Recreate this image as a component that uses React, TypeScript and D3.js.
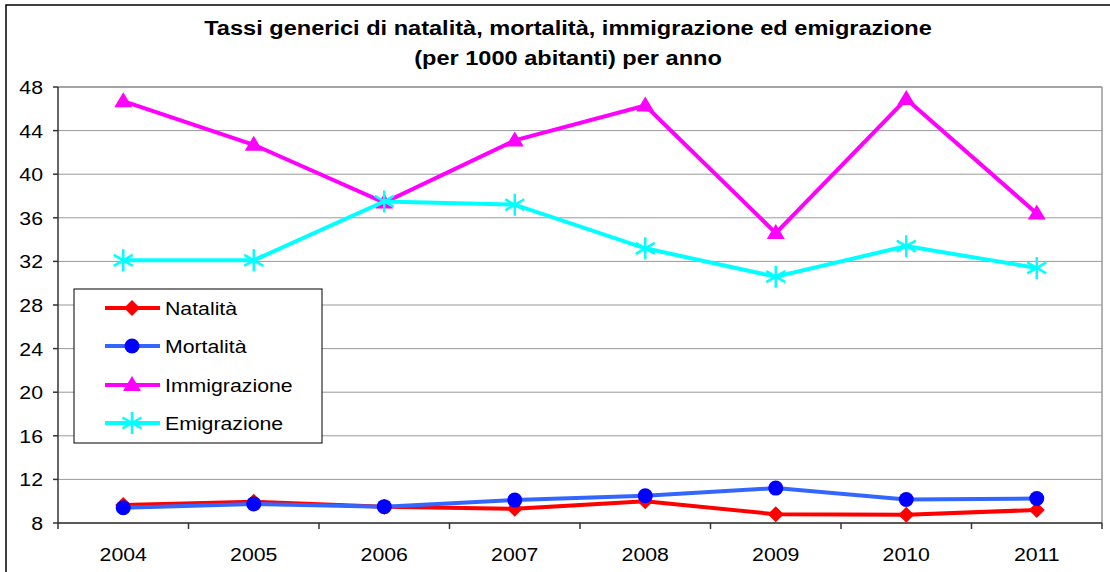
import React from "react";
import * as d3 from "d3";

const years = ["2004", "2005", "2006", "2007", "2008", "2009", "2010", "2011"];
const natalita = [9.65, 9.95, 9.5, 9.3, 10.0, 8.8, 8.75, 9.2];
const mortalita = [9.4, 9.75, 9.5, 10.1, 10.5, 11.2, 10.15, 10.25];
const immigrazione = [46.7, 42.7, 37.4, 43.1, 46.3, 34.6, 46.9, 36.4];
const emigrazione = [32.1, 32.1, 37.5, 37.2, 33.2, 30.6, 33.4, 31.4];
const yTicks = [8, 12, 16, 20, 24, 28, 32, 36, 40, 44, 48];
const titleLines = [
  "Tassi generici di natalità, mortalità, immigrazione ed emigrazione",
  "(per 1000 abitanti) per anno",
];

type Series = { name: string; values: number[]; line: string; marker: string; shape: string };
const series: Series[] = [
  { name: "Natalità", values: natalita, line: "#ff0000", marker: "#ff0000", shape: "diamond" },
  { name: "Mortalità", values: mortalita, line: "#3366ff", marker: "#0000ff", shape: "circle" },
  { name: "Immigrazione", values: immigrazione, line: "#ff00ff", marker: "#ff00ff", shape: "triangle" },
  { name: "Emigrazione", values: emigrazione, line: "#00ffff", marker: "#00ffff", shape: "star" },
];

const W = 1110;
const H = 572;
const left = 58;
const right = 1102;
const top = 87;
const bottom = 523;
const SX = 1.15;

function Marker({ shape, x, y, color }: { shape: string; x: number; y: number; color: string }) {
  if (shape === "diamond") {
    const s = 8;
    return <path d={`M${x},${y - s}L${x + s},${y}L${x},${y + s}L${x - s},${y}Z`} fill={color} />;
  }
  if (shape === "circle") return <circle cx={x} cy={y} r={7.5} fill={color} />;
  if (shape === "triangle") {
    return <path d={`M${x},${y - 9}L${x + 9},${y + 6}L${x - 9},${y + 6}Z`} fill={color} />;
  }
  const r = 11;
  const lines = [0, 60, 120].map((a) => {
    const rad = (a * Math.PI) / 180;
    return `M${x - r * Math.sin(rad)},${y - r * Math.cos(rad)}L${x + r * Math.sin(rad)},${y + r * Math.cos(rad)}`;
  });
  return <path d={lines.join("")} stroke={color} strokeWidth={2.5} fill="none" />;
}

function Txt({ x, y, anchor, size, weight, children }: any) {
  return (
    <text
      transform={`translate(${x},${y}) scale(${SX},1)`}
      textAnchor={anchor}
      fontSize={size}
      fontWeight={weight}
      fontFamily="'Liberation Sans', Arial, sans-serif"
      fill="#000"
    >
      {children}
    </text>
  );
}

export default function App() {
  const x = d3.scaleBand<string>().domain(years).range([left, right]);
  const y = d3.scaleLinear().domain([8, 48]).range([bottom, top]);
  const cx = (d: string) => (x(d) as number) + x.bandwidth() / 2;
  const line = d3
    .line<number>()
    .x((_, i) => cx(years[i]))
    .y((v) => y(v));
  const boundaries = years.map((d) => x(d) as number).concat([right]);

  const legendX = 74;
  const legendY = 289;
  const legendRows = [308, 346, 385, 423];

  return (
    <svg
      width={W}
      height={H}
      style={{ position: "absolute", left: 0, top: 0, background: "#fff" }}
    >
      <rect x={0} y={0} width={W} height={H} fill="#fff" />
      <rect x={6} y={5} width={W + 20} height={H + 20} fill="none" stroke="#000" strokeWidth={1.5} />
      {titleLines.map((t, i) => (
        <Txt key={i} x={568} y={35 + i * 30} anchor="middle" size={20.5} weight="bold">
          {t}
        </Txt>
      ))}
      {yTicks.map((t) => (
        <line key={t} x1={left} x2={right} y1={y(t)} y2={y(t)} stroke="#999" strokeWidth={1} />
      ))}
      <line x1={right} x2={right} y1={top} y2={bottom} stroke="#999" strokeWidth={1.5} />
      <line x1={left} x2={right} y1={top} y2={top} stroke="#999" strokeWidth={1.5} />
      <line x1={left} x2={left} y1={top} y2={bottom} stroke="#333" strokeWidth={1.5} />
      <line x1={left} x2={right} y1={bottom} y2={bottom} stroke="#333" strokeWidth={1.5} />
      {yTicks.map((t) => (
        <g key={"yt" + t}>
          <line x1={left - 5} x2={left} y1={y(t)} y2={y(t)} stroke="#333" strokeWidth={1.5} />
          <Txt x={43} y={y(t) + 7} anchor="end" size={18.5}>
            {t}
          </Txt>
        </g>
      ))}
      {boundaries.map((b, i) => (
        <line key={"xt" + i} x1={b} x2={b} y1={bottom} y2={bottom + 6} stroke="#333" strokeWidth={1.5} />
      ))}
      {years.map((d) => (
        <Txt key={d} x={cx(d)} y={561} anchor="middle" size={18.5}>
          {d}
        </Txt>
      ))}
      {series.map((s) => (
        <g key={s.name}>
          <path d={line(s.values) as string} fill="none" stroke={s.line} strokeWidth={4} />
          {s.values.map((v, i) => (
            <Marker key={i} shape={s.shape} x={cx(years[i])} y={y(v)} color={s.marker} />
          ))}
        </g>
      ))}
      <rect x={legendX} y={legendY} width={248} height={154} fill="#fff" stroke="#000" strokeWidth={1} />
      {series.map((s, i) => (
        <g key={"lg" + s.name}>
          <line x1={105} x2={160} y1={legendRows[i]} y2={legendRows[i]} stroke={s.line} strokeWidth={4} />
          <Marker shape={s.shape} x={132} y={legendRows[i]} color={s.marker} />
          <Txt x={165} y={legendRows[i] + 7} anchor="start" size={18.5}>
            {s.name}
          </Txt>
        </g>
      ))}
    </svg>
  );
}
